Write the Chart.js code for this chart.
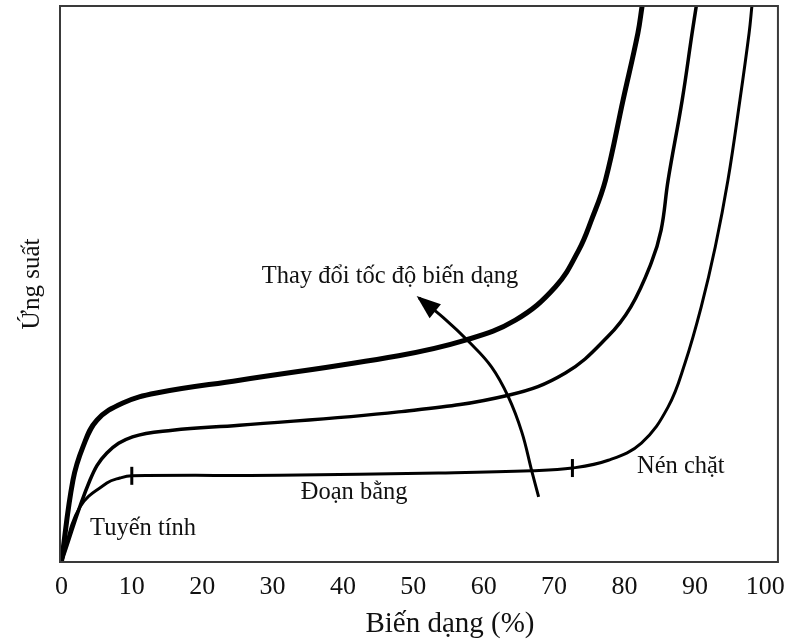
<!DOCTYPE html>
<html>
<head>
<meta charset="utf-8">
<script src="https://cdn.jsdelivr.net/npm/chart.js@4"></script>
<style>
  html, body { margin: 0; padding: 0; background: #fff; }
</style>
</head>
<body>
<canvas id="chart" width="795" height="644"></canvas>
<script>
// x axis ticks (strain, %)
const xTicks = [0, 10, 20, 30, 40, 50, 60, 70, 80, 90, 100];

// highest strain rate curve
const highStrain = [0, 1.64, 3.06, 5.04, 8.73, 13.5, 25.3, 47.9, 57.4, 64.5, 70.2, 73.5, 75.3, 77.3, 79.8, 81.9, 82.5];
const highStress = [0, 14.7, 20.7, 25.5, 28.6, 30.4, 32.7, 37.1, 39.9, 43.5, 49.5, 56.1, 61.5, 68.7, 83.1, 95.1, 100];

// middle curve
const midStrain = [0, 4.05, 6.46, 10.1, 15.8, 25.3, 47.9, 63.5, 71.6, 77.6, 80.9, 83.8, 85.2, 86.2, 88.2, 89.6, 90.2];
const midStress = [0, 14.7, 19.6, 22.5, 23.7, 24.6, 27.0, 30.0, 34.0, 40.5, 45.9, 53.8, 59.7, 68.7, 83.1, 95.1, 100];

// lowest curve (linear / plateau / densification)
const lowStrain = [0, 2.63, 6.46, 8.3, 10.0, 31.0, 53.6, 66.8, 72.6, 77.7, 82.4, 86.2, 88.6, 90.9, 92.9, 94.7, 96.4, 97.7, 98.1];
const lowStress = [0, 9.9, 14.2, 15.1, 15.5, 15.6, 16.0, 16.4, 16.9, 18.3, 21.4, 27.9, 35.8, 45.9, 56.7, 68.7, 83.1, 95.1, 100];

// region boundaries marked on the lowest curve
const markStrain = [10.0, 72.6];
const markStress = [15.5, 16.9];

// curved arrow "strain rate change"
const arrowStrain = [67.8, 66.8, 65.4, 63.5, 61.1, 57.9, 54.3, 50.8];
const arrowStress = [11.7, 16.5, 23.4, 29.7, 35.1, 39.6, 43.9, 47.5];

const zip = (xs, ys) => xs.map((v, i) => ({ x: v, y: ys[i] }));

const serif = '"Liberation Serif", "Times New Roman", serif';
Chart.defaults.font.family = serif;
Chart.defaults.color = '#111';

// text notes placed in data coordinates
const notes = [
  { text: 'Thay đổi tốc độ biến dạng', x: 46.7, y: 51.3 },
  { text: 'Đoạn bằng', x: 41.6, y: 12.4 },
  { text: 'Nén chặt', x: 88.0, y: 17.1 },
  { text: 'Tuyến tính', x: 11.6, y: 6.1 }
];

const extras = {
  id: 'extras',
  afterDatasetsDraw(chart) {
    const { ctx, chartArea: a, scales: { x, y } } = chart;
    ctx.save();

    // frame round the plot
    ctx.strokeStyle = '#3a3a3a';
    ctx.lineWidth = 2;
    ctx.strokeRect(a.left, a.top, a.right - a.left, a.bottom - a.top);

    // arrow head at the end of the arrow line
    const pts = chart.getDatasetMeta(4).data;
    const tip = pts[pts.length - 1];
    const prev = pts[pts.length - 2];
    const ang = Math.atan2(tip.y - prev.y, tip.x - prev.x);
    const len = 24, half = 9;
    const tx = tip.x + Math.cos(ang) * 3, ty = tip.y + Math.sin(ang) * 3;
    ctx.fillStyle = '#000';
    ctx.beginPath();
    ctx.moveTo(tx, ty);
    ctx.lineTo(tx - Math.cos(ang) * len - Math.sin(ang) * half, ty - Math.sin(ang) * len + Math.cos(ang) * half);
    ctx.lineTo(tx - Math.cos(ang) * len + Math.sin(ang) * half, ty - Math.sin(ang) * len - Math.cos(ang) * half);
    ctx.closePath();
    ctx.fill();

    // notes
    ctx.fillStyle = '#111';
    ctx.font = '24.5px ' + serif;
    ctx.textAlign = 'center';
    ctx.textBaseline = 'middle';
    notes.forEach(n => ctx.fillText(n.text, x.getPixelForValue(n.x), y.getPixelForValue(n.y)));

    // x axis title
    ctx.font = '29px ' + serif;
    ctx.fillText('Biến dạng (%)', x.getPixelForValue(55.2), 624);
    ctx.restore();
  }
};

const curve = (data, width) => ({
  data: data,
  borderColor: '#000',
  borderWidth: width,
  pointRadius: 0,
  tension: 0.4,
  fill: false
});

new Chart(document.getElementById('chart'), {
  type: 'line',
  data: {
    datasets: [
      curve(zip(highStrain, highStress), 5),
      curve(zip(midStrain, midStress), 3.5),
      curve(zip(lowStrain, lowStress), 3),
      {
        data: zip(markStrain, markStress),
        showLine: false,
        pointStyle: 'line',
        rotation: 90,
        pointRadius: 9,
        pointBorderWidth: 3,
        pointBorderColor: '#000'
      },
      curve(zip(arrowStrain, arrowStress), 3)
    ]
  },
  options: {
    responsive: false,
    animation: false,
    layout: { autoPadding: false, padding: { top: 6, right: 13, left: 0, bottom: 0 } },
    plugins: { legend: { display: false }, tooltip: { enabled: false } },
    scales: {
      x: {
        type: 'linear',
        min: -0.2,
        max: 101.8,
        grid: { display: false, drawTicks: false },
        border: { display: false },
        afterBuildTicks: s => { s.ticks = xTicks.map(v => ({ value: v })); },
        afterFit: s => { s.height = 82; },
        ticks: { padding: 10, font: { size: 26 }, color: '#111', maxRotation: 0, autoSkip: false }
      },
      y: {
        min: 0,
        max: 100,
        grid: { display: false, drawTicks: false },
        border: { display: false },
        ticks: { display: false },
        afterFit: s => { s.width = 60; },
        title: { display: true, text: 'Ứng suất', font: { size: 25 }, color: '#111', padding: { top: 17, bottom: 0 } }
      }
    }
  },
  plugins: [extras]
});
</script>
</body>
</html>
